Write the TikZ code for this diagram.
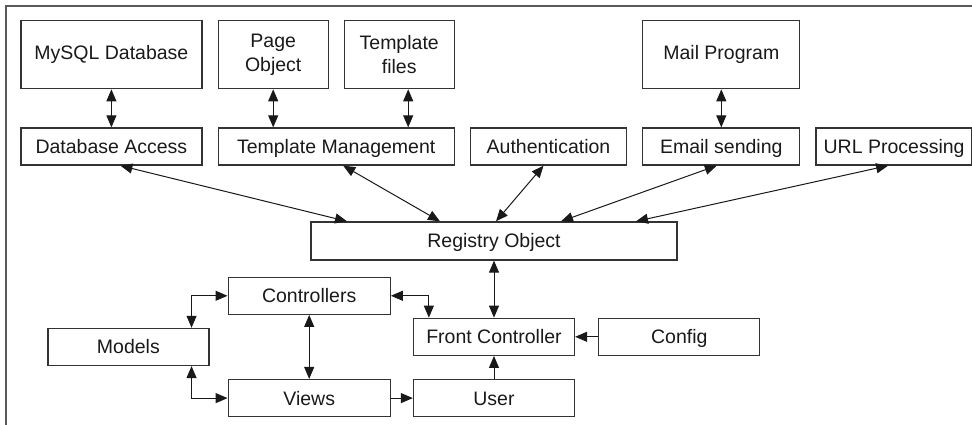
\documentclass[tikz,border=0pt]{standalone}
\usepackage{fontspec}
\setmainfont{Liberation Sans}
\usepackage{xcolor}
\usepackage{tikz}
\usetikzlibrary{arrows.meta, positioning, calc}

\begin{document}
\begin{tikzpicture}[
        x=1pt, y=1pt,
        % 1. STYLES
        base/.style={
            draw=black!80, line width=1.3pt, align=center, inner sep=0pt,
            text=black!90, font=\fontsize{19.5}{24}\selectfont
        },
        % one-line boxes (fixed text height so the baselines match)
        box/.style={base, minimum height=37pt, text height=15pt, text depth=1pt},
        % taller boxes on the top row
        tall/.style={base, minimum height=68pt},
        % connectors
        link/.style={draw=black!90, line width=1pt},
        both/.style={link, {Triangle[length=12pt,width=10pt]}-{Triangle[length=12pt,width=10pt]}},
        one/.style={link, -{Triangle[length=12pt,width=10pt]}},
        frame/.style={draw=black!65, line width=1.5pt}
    ]
        \useasboundingbox (0,0) rectangle (972,425);

        % 2. FRAME
        \draw[frame] (6,0) -- (6,419) -- (972,419);

        % 3. NODES (second row)
        \node[box, minimum width=181pt] at (111.4,278.5) (dbacc) {Database Access};
        \node[box, minimum width=236pt, right=15pt of dbacc] (tm) {Template Management};
        \node[box, minimum width=156pt, right=15pt of tm] (auth) {Authentication};
        \node[box, minimum width=157pt, right=15pt of auth] (email) {Email sending};
        \node[box, minimum width=156pt, right=15pt of email] (url) {URL Processing};

        % top row
        \node[tall, minimum width=181pt, above=38pt of dbacc] (mysql) {MySQL Database};
        \node[tall, minimum width=110pt, above right=38pt and 0pt of tm.north west] (pageobj) {Page\\Object};
        \node[tall, minimum width=110pt, above left=38pt and 0pt of tm.north east] (tfiles) {Template\\files};
        \node[tall, minimum width=157pt, above=38pt of email] (mail) {Mail Program};

        % registry and lower part
        \node[box, minimum width=366pt, minimum height=38pt] at (494,184) (registry) {Registry Object};
        \node[box, minimum width=161pt, below=57pt of registry] (fc) {Front Controller};
        \node[box, minimum width=161pt, below=23pt of fc] (user) {User};
        \node[box, minimum width=161pt, right=23pt of fc] (config) {Config};
        \node[box, minimum width=162pt, left=22pt of user] (views) {Views};
        \node[box, minimum width=162pt, above=64pt of views] (ctrl) {Controllers};
        \coordinate (mid) at ($(ctrl.west)!.5!(views.west)$);
        \node[box, minimum width=161pt, left=18pt of mid] (models) {Models};

        % 4. CONNECTORS
        \draw[both] (mysql) -- (dbacc);
        \draw[both] (pageobj) -- (pageobj |- tm.north);
        \draw[both] ([xshift=9pt]tfiles.south) -- ([xshift=9pt]tfiles.south |- tm.north);
        \draw[both] (mail) -- (email);

        \draw[both] ([xshift=9pt]dbacc.south) -- ([xshift=-147pt]registry.north);
        \draw[both] ([xshift=7pt]tm.south) -- ([xshift=-54pt]registry.north);
        \draw[both] ([xshift=-5pt]auth.south) -- ([xshift=2pt]registry.north);
        \draw[both] ([xshift=-4.5pt]email.south) -- ([xshift=67pt]registry.north);
        \draw[both] ([xshift=-6pt]url.south) -- ([xshift=142pt]registry.north);

        \draw[both] (registry) -- (fc);
        \draw[one] (config) -- (fc);
        \draw[one] (user) -- (fc);
        \draw[one] (views) -- (user);
        \draw[both] (ctrl) -- (views);
        \draw[both] (ctrl.east) -| ([xshift=16pt]fc.north west);
        \draw[both] (ctrl.west) -| ([xshift=-18pt]models.north east);
        \draw[both] ([xshift=-18pt]models.south east) |- (views.west);

    \end{tikzpicture}
\end{document}
